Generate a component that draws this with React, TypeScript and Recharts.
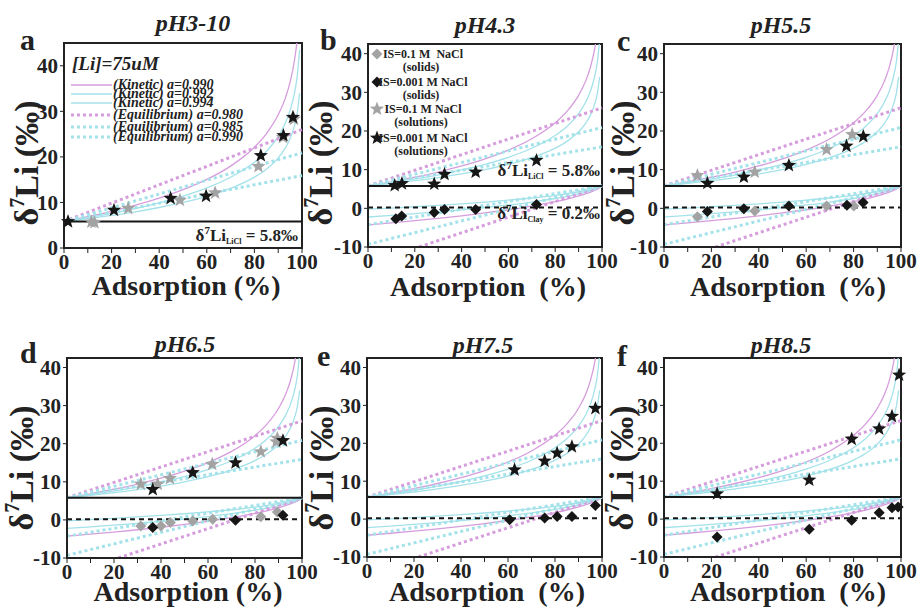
import React from 'react';
import { ComposedChart, Line, Scatter, XAxis, YAxis, ReferenceLine, ReferenceArea } from 'recharts';

const SERIF = 'Liberation Serif, Times New Roman, serif';
const INK = '#222222';
const PURPLE = '#d69ddd';
const CYAN = '#a4e2ea';
const GRAY = '#a3a3a3';
const BLACK = '#161616';

// model curves (solution side) – the same in every panel
const SOL_X = [0, 10, 20, 30, 40, 50, 60, 70, 80, 85, 90, 93, 95, 97, 98, 99];
const KIN_SOL_990 = [5.8, 6.86, 8.05, 9.39, 10.95, 12.8, 15.06, 17.98, 22.12, 25.06, 29.23, 32.9, 36.4, 41.7, 45.9, 53.2];
const KIN_SOL_992 = [5.8, 6.65, 7.6, 8.67, 9.92, 11.39, 13.2, 15.53, 18.83, 21.18, 24.5, 27.45, 30.2, 34.42, 37.77, 43.55];
const KIN_SOL_994 = [5.8, 6.44, 7.15, 7.95, 8.89, 9.99, 11.35, 13.09, 15.56, 17.31, 19.79, 21.97, 24.04, 27.19, 29.68, 33.98];

// model curves (solid side)
const SOLID_X = [0, 10, 20, 30, 40, 50, 60, 70, 80, 85, 90, 95, 99, 100];
const KIN_SOLID_990 = [-4.26, -3.74, -3.19, -2.59, -1.93, -1.2, -0.37, 0.58, 1.72, 2.4, 3.2, 4.19, 5.32, 5.8];
const KIN_SOLID_992 = [-2.25, -1.83, -1.39, -0.91, -0.38, 0.21, 0.87, 1.63, 2.54, 3.09, 3.72, 4.52, 5.42, 5.8];
const KIN_SOLID_994 = [-0.23, 0.07, 0.41, 0.77, 1.17, 1.61, 2.1, 2.67, 3.36, 3.77, 4.25, 4.84, 5.52, 5.8];

// equilibrium curves are straight lines
const EQ_X = [0, 100];
const EQ_SOL_980 = [5.8, 26.0];
const EQ_SOL_985 = [5.8, 20.9];
const EQ_SOL_990 = [5.8, 15.9];
const EQ_SOLID_980 = [-14.4, 5.8];
const EQ_SOLID_985 = [-9.3, 5.8];
const EQ_SOLID_990 = [-4.25, 5.8];

const X_TICKS = [0, 10, 20, 30, 40, 50, 60, 70, 80, 90, 100];
const Y_TICKS_A = [0, 10, 20, 30, 40];
const Y_TICKS = [-10, 0, 10, 20, 30, 40];
const LICL = 5.8;
const CLAY = 0.2;

// measured points: [adsorption %, d7Li]
// gray star = IS 0.1 M solutions, black star = IS 0.001 M solutions
// gray diamond = IS 0.1 M solids, black diamond = IS 0.001 M solids
const A_GRAY_STAR = [[11.5, 5.7], [12.8, 5.6], [27, 8.7], [48.7, 10.5], [63.5, 12.1], [81.7, 17.9], [92, 24.3], [96.6, 28.3]];
const A_BLACK_STAR = [[1.7, 5.8], [21, 8.3], [44.8, 10.9], [59.7, 11.4], [82.7, 20.3], [92.2, 24.7], [96.2, 28.7]];

const B_BLACK_STAR = [[11.4, 5.9], [14.5, 6.4], [28.3, 6.3], [32.7, 8.8], [46, 9.4], [72, 12.4]];
const B_BLACK_DIAMOND = [[11.9, -2.7], [14.4, -2.0], [28.3, -1.1], [32.7, -0.3], [46, -0.3], [72, 1.0]];

const C_GRAY_STAR = [[14.1, 8.5], [38.3, 9.4], [68.6, 15.2], [79.4, 19.1]];
const C_BLACK_STAR = [[18.3, 6.5], [33.7, 8.1], [52.7, 11.1], [77, 16.1], [84.1, 18.6]];
const C_GRAY_DIAMOND = [[14.1, -2.2], [38.3, -0.7], [68.6, 0.6], [80.1, 0.6]];
const C_BLACK_DIAMOND = [[18.3, -0.8], [33.7, -0.1], [52.7, 0.6], [77.2, 0.8], [84, 1.5]];

const D_GRAY_STAR = [[31.4, 9.4], [38.6, 9.4], [43.8, 10.9], [61.8, 14.6], [82.5, 17.9], [89.1, 20.5], [89.5, 21.4]];
const D_BLACK_STAR = [[36.5, 8.0], [53.5, 12.4], [71.7, 15.0], [91.9, 20.8]];
const D_GRAY_DIAMOND = [[31.4, -1.6], [40, -1.6], [44, -0.7], [53.5, -0.3], [62, 0.2], [82.5, 0.8], [89.5, 2.1]];
const D_BLACK_DIAMOND = [[36.5, -2.0], [71.7, -0.1], [91.9, 1.2]];

const E_BLACK_STAR = [[62.8, 13.0], [75.6, 15.3], [80.9, 17.4], [87.2, 19.1], [97.2, 29.2]];
const E_BLACK_DIAMOND = [[60.7, -0.2], [75.6, 0.3], [80.9, 0.7], [87.2, 0.7], [97.2, 3.6]];

const F_BLACK_STAR = [[22.4, 6.7], [61.3, 10.3], [79.2, 21.1], [90.8, 23.8], [96.2, 27.1], [99.2, 38.0]];
const F_BLACK_DIAMOND = [[22.4, -4.7], [61.3, -2.7], [79.2, -0.3], [90.8, 1.7], [96.2, 3.0], [98.8, 3.2]];

const toRows = (xs: number[], ys: number[]) => xs.map((x, i) => ({ x, y: ys[i] }));
const toPts = (pairs: number[][]) => pairs.map(([x, y]) => ({ x, y }));

function Star({ cx, cy, fill, r = 7.5 }: any) {
  const pts: string[] = [];
  for (let i = 0; i < 10; i++) {
    const rad = i % 2 === 0 ? r : r * 0.42;
    const a = -Math.PI / 2 + (i * Math.PI) / 5;
    pts.push(`${cx + rad * Math.cos(a)},${cy + rad * Math.sin(a)}`);
  }
  return <polygon points={pts.join(' ')} fill={fill} />;
}

function Diamond({ cx, cy, fill, r = 5.5 }: any) {
  return <polygon points={`${cx},${cy - r} ${cx + r},${cy} ${cx},${cy + r} ${cx - r},${cy}`} fill={fill} />;
}

const curveLines = (solids: boolean) => {
  const sol = [
    { d: toRows(SOL_X, KIN_SOL_990), c: PURPLE, dot: false },
    { d: toRows(SOL_X, KIN_SOL_992), c: CYAN, dot: false },
    { d: toRows(SOL_X, KIN_SOL_994), c: CYAN, dot: false },
    { d: toRows(EQ_X, EQ_SOL_980), c: PURPLE, dot: true },
    { d: toRows(EQ_X, EQ_SOL_985), c: CYAN, dot: true },
    { d: toRows(EQ_X, EQ_SOL_990), c: CYAN, dot: true },
  ];
  const sld = [
    { d: toRows(SOLID_X, KIN_SOLID_990), c: PURPLE, dot: false },
    { d: toRows(SOLID_X, KIN_SOLID_992), c: CYAN, dot: false },
    { d: toRows(SOLID_X, KIN_SOLID_994), c: CYAN, dot: false },
    { d: toRows(EQ_X, EQ_SOLID_980), c: PURPLE, dot: true },
    { d: toRows(EQ_X, EQ_SOLID_985), c: CYAN, dot: true },
    { d: toRows(EQ_X, EQ_SOLID_990), c: CYAN, dot: true },
  ];
  return (solids ? [...sol, ...sld] : sol).map((s, i) => (
    <Line
      key={i}
      yAxisId="curve"
      data={s.d}
      dataKey="y"
      type="monotone"
      stroke={s.c}
      strokeWidth={s.dot ? 3 : 1.3}
      strokeDasharray={s.dot ? '3 3' : undefined}
      dot={false}
      activeDot={false}
      isAnimationActive={false}
    />
  ));
};

// only every second x tick carries a label
function XTick({ x, y, payload }: any) {
  if (payload.value % 20 !== 0) return <g />;
  return (
    <text x={x} y={y} dy="0.72em" textAnchor="middle" fontSize={21} fontWeight="bold" fill={INK}
      style={{ fontFamily: SERIF }}>
      {payload.value}
    </text>
  );
}

function YTick({ x, y, payload }: any) {
  return (
    <text x={x} y={y} dy="0.35em" textAnchor="end" fontSize={21} fontWeight="bold" fill={INK}
      style={{ fontFamily: SERIF }}>
      {payload.value}
    </text>
  );
}

function Panel({ box, yDomain, yTicks, solids, grayStar, blackStar, grayDiamond, blackDiamond }: any) {
  const [l, t, r, b] = box;
  return (
    <div style={{ position: 'absolute', left: 0, top: 0 }}>
      <ComposedChart
        width={919}
        height={608}
        margin={{ top: t, left: l - 40, right: 919 - r, bottom: 608 - b - 30 }}
      >
        <XAxis
          type="number"
          dataKey="x"
          domain={[0, 100]}
          ticks={X_TICKS}
          interval={0}
          height={30}
          stroke={INK}
          tick={<XTick />}
          tickSize={5}
          tickMargin={1}
          axisLine={{ strokeWidth: 2 }}
        />
        <YAxis
          type="number"
          dataKey="y"
          domain={yDomain}
          ticks={yTicks}
          interval={0}
          width={40}
          stroke={INK}
          tick={<YTick />}
          tickSize={4}
          tickMargin={2}
          axisLine={{ strokeWidth: 2 }}
        />
        <YAxis yAxisId="curve" type="number" domain={yDomain} allowDataOverflow hide />
        {curveLines(solids)}
        <ReferenceLine y={LICL} stroke={BLACK} strokeWidth={2} />
        {solids && <ReferenceLine y={CLAY} stroke={BLACK} strokeWidth={2} strokeDasharray="5 4" />}
        <ReferenceArea x1={0} x2={100} y1={yDomain[0]} y2={yDomain[1]} fill="none" stroke={INK} strokeWidth={2} />
        {grayDiamond && (
          <Scatter data={toPts(grayDiamond)} dataKey="y" isAnimationActive={false}
            shape={(p: any) => <Diamond cx={p.cx} cy={p.cy} fill={GRAY} />} />
        )}
        {blackDiamond && (
          <Scatter data={toPts(blackDiamond)} dataKey="y" isAnimationActive={false}
            shape={(p: any) => <Diamond cx={p.cx} cy={p.cy} fill={BLACK} />} />
        )}
        {grayStar && (
          <Scatter data={toPts(grayStar)} dataKey="y" isAnimationActive={false}
            shape={(p: any) => <Star cx={p.cx} cy={p.cy} fill={GRAY} />} />
        )}
        {blackStar && (
          <Scatter data={toPts(blackStar)} dataKey="y" isAnimationActive={false}
            shape={(p: any) => <Star cx={p.cx} cy={p.cy} fill={BLACK} />} />
        )}
      </ComposedChart>
    </div>
  );
}

const serif = { fontFamily: SERIF };

function YTitle({ x, y }: { x: number; y: number }) {
  return (
    <text transform={`translate(${x},${y}) rotate(-90)`} textAnchor="middle" style={serif}
      fontWeight="bold" fontSize={34} fill={INK}>
      δ<tspan fontSize={20} dy={-14}>7</tspan><tspan dy={14}>Li (‰)</tspan>
    </text>
  );
}

function Note({ x, y, sub, val }: { x: number; y: number; sub: string; val: string }) {
  return (
    <text x={x} y={y} textAnchor="end" style={serif} fontWeight="bold" fontSize={17} fill={INK}>
      δ<tspan fontSize={11} dy={-7}>7</tspan><tspan dy={7}>Li</tspan>
      <tspan fontSize={8} dy={3}>{sub}</tspan><tspan dy={-3}>{` = ${val}`}</tspan>
    </text>
  );
}

const MODEL_LEGEND = [
  { label: '(Kinetic) a=0.990', c: PURPLE, dot: false },
  { label: '(Kinetic) a=0.992', c: CYAN, dot: false },
  { label: '(Kinetic) a=0.994', c: CYAN, dot: false },
  { label: '(Equilibrium) a=0.980', c: PURPLE, dot: true },
  { label: '(Equilibrium) a=0.985', c: CYAN, dot: true },
  { label: '(Equilibrium) a=0.990', c: CYAN, dot: true },
];
const MODEL_LEGEND_Y = [85, 94, 103, 115, 127, 137];

export default function App() {
  const panels = [
    { box: [64, 43, 302, 248], yDomain: [0, 45], yTicks: Y_TICKS_A, solids: false, grayStar: A_GRAY_STAR, blackStar: A_BLACK_STAR },
    { box: [368, 44, 602, 247], yDomain: [-10, 42.5], yTicks: Y_TICKS, solids: true, blackStar: B_BLACK_STAR, blackDiamond: B_BLACK_DIAMOND },
    { box: [664, 44, 901, 247], yDomain: [-10, 42.5], yTicks: Y_TICKS, solids: true, grayStar: C_GRAY_STAR, blackStar: C_BLACK_STAR, grayDiamond: C_GRAY_DIAMOND, blackDiamond: C_BLACK_DIAMOND },
    { box: [67, 358, 302, 558], yDomain: [-10, 42.5], yTicks: Y_TICKS, solids: true, grayStar: D_GRAY_STAR, blackStar: D_BLACK_STAR, grayDiamond: D_GRAY_DIAMOND, blackDiamond: D_BLACK_DIAMOND },
    { box: [367, 358, 602, 557], yDomain: [-10, 42.5], yTicks: Y_TICKS, solids: true, blackStar: E_BLACK_STAR, blackDiamond: E_BLACK_DIAMOND },
    { box: [664, 358, 901, 557], yDomain: [-10, 42.5], yTicks: Y_TICKS, solids: true, blackStar: F_BLACK_STAR, blackDiamond: F_BLACK_DIAMOND },
  ];
  const titles = [
    ['pH3-10', 193, 31], ['pH4.3', 485, 33], ['pH5.5', 781, 33],
    ['pH6.5', 185, 352], ['pH7.5', 483, 353], ['pH8.5', 781, 353],
  ] as const;
  const letters = [['a', 20, 50], ['b', 320, 50], ['c', 617, 51], ['d', 20, 363], ['e', 317, 366], ['f', 617, 366]] as const;
  const xTitles = [
    ['Adsorption (%)', 186, 295], ['Adsorption  (%)', 488, 296], ['Adsorption  (%)', 788, 296],
    ['Adsorption (%)', 188, 601], ['Adsorption  (%)', 487, 601], ['Adsorption  (%)', 788, 601],
  ] as const;
  const yTitles = [[38, 163], [332, 163], [634, 163], [33, 468], [333, 468], [633, 468]];
  const symLegend = [
    { lines: ['IS=0.1 M  NaCl', '(solids)'], y: 54, m: 'd', c: GRAY },
    { lines: ['IS=0.001 M NaCl', '(solids)'], y: 82, m: 'd', c: BLACK },
    { lines: ['IS=0.1 M NaCl', '(solutions)'], y: 109, m: 's', c: GRAY },
    { lines: ['IS=0.001 M NaCl', '(solutions)'], y: 138, m: 's', c: BLACK },
  ];

  return (
    <div style={{ position: 'absolute', left: 0, top: 0, width: 919, height: 608, background: '#fff', overflow: 'hidden' }}>
      {panels.map((p, i) => <Panel key={i} {...p} />)}
      <svg width={919} height={608} style={{ position: 'absolute', left: 0, top: 0, fontFamily: SERIF }}>
        {titles.map(([s, x, y]) => (
          <text key={s} x={x} y={y} textAnchor="middle" fontSize={24} fontStyle="italic" fontWeight="bold" fill={INK} style={serif}>{s}</text>
        ))}
        {letters.map(([s, x, y]) => (
          <text key={s} x={x} y={y} fontSize={30} fontWeight="bold" fill={INK} style={serif}>{s}</text>
        ))}
        {xTitles.map(([s, x, y], i) => (
          <text key={i} x={x} y={y} textAnchor="middle" fontSize={28} fontWeight="bold" fill={INK}
            style={{ ...serif, whiteSpace: 'pre' }}>{s}</text>
        ))}
        {yTitles.map(([x, y], i) => <YTitle key={i} x={x} y={y} />)}

        <text x={72} y={70} fontSize={19} fontStyle="italic" fontWeight="bold" fill={INK} style={serif}>[Li]=75uM</text>
        {MODEL_LEGEND.map((m, i) => (
          <g key={m.label}>
            <line x1={71} x2={112} y1={MODEL_LEGEND_Y[i]} y2={MODEL_LEGEND_Y[i]} stroke={m.c}
              strokeWidth={m.dot ? 3 : 1.5} strokeDasharray={m.dot ? '3 3' : undefined} />
            <text x={113} y={MODEL_LEGEND_Y[i] + 4} fontSize={14} fontStyle="italic" fontWeight="bold" fill={INK} style={serif}>{m.label}</text>
          </g>
        ))}
        <Note x={298} y={241} sub="LiCl" val="5.8‰" />

        {symLegend.map((e) => (
          <g key={e.y + e.lines[0]}>
            {e.m === 'd' ? <Diamond cx={377} cy={e.y} fill={e.c} /> : <Star cx={377} cy={e.y} fill={e.c} />}
            <text x={423} y={e.y + 4} textAnchor="middle" fontSize={12} fontWeight="bold" fill={INK}
              style={{ ...serif, whiteSpace: 'pre' }}>{e.lines[0]}</text>
            <text x={421} y={e.y + 17} textAnchor="middle" fontSize={12} fontWeight="bold" fill={INK} style={serif}>{e.lines[1]}</text>
          </g>
        ))}
        <Note x={600} y={176} sub="LiCl" val="5.8‰" />
        <Note x={600} y={219} sub="Clay" val="0.2‰" />
      </svg>
    </div>
  );
}
